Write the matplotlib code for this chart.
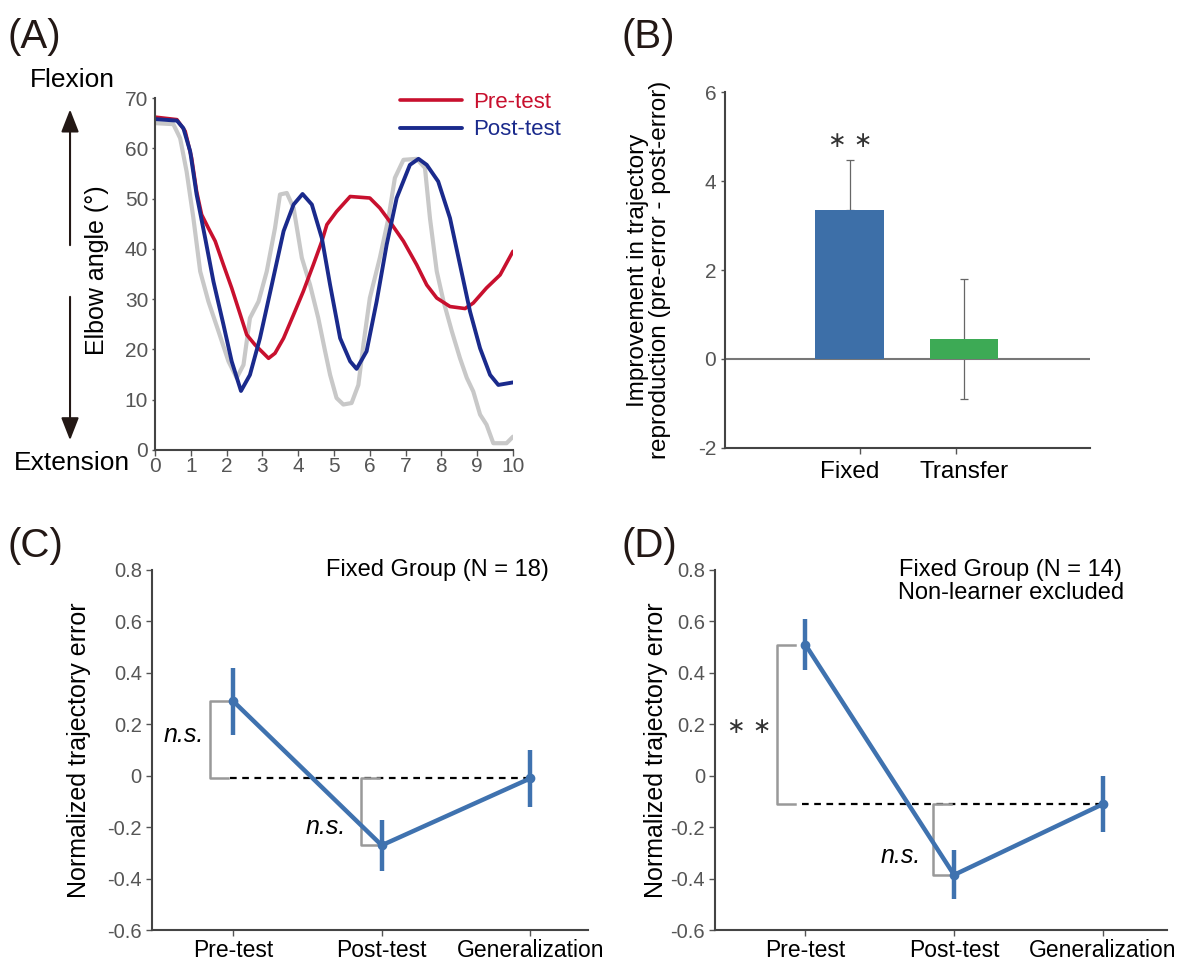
import numpy as np
import matplotlib
matplotlib.use('Agg')
import matplotlib.pyplot as plt
from matplotlib.patches import FancyArrowPatch

plt.rcParams['font.family'] = ['Liberation Sans', 'DejaVu Sans']
plt.rcParams['axes.unicode_minus'] = False

# (A) elbow angle traces
target_t = [0, 0.51, 0.70, 0.88, 1.07, 1.26, 1.49, 1.77, 2.05, 2.28, 2.47, 2.65, 2.89, 3.12,
            3.35, 3.49, 3.68, 3.87, 4.10, 4.33, 4.56, 4.75, 4.89, 5.07, 5.26, 5.49, 5.68,
            5.82, 6.0, 6.28, 6.52, 6.70, 6.94, 7.31, 7.54, 7.68, 7.87, 8.06, 8.29, 8.52,
            8.71, 8.89, 9.08, 9.26, 9.45, 9.82, 10]
target_y = [65.0, 64.8, 62.0, 55.4, 46.1, 35.5, 29.5, 23.6, 17.6, 14.3, 16.9, 26.2, 29.5, 35.5,
            44.1, 50.8, 51.1, 48.1, 38.2, 32.8, 26.2, 19.6, 14.9, 10.3, 9.0, 9.3, 12.9,
            20.9, 30.2, 38.2, 46.1, 54.1, 57.7, 57.9, 56.1, 46.1, 35.5, 29.5, 23.6, 18.2,
            14.3, 11.6, 7.0, 5.0, 1.3, 1.3, 2.6]
pre_t = [0, 0.61, 0.84, 1.02, 1.16, 1.30, 1.49, 1.68, 1.91, 2.14, 2.38, 2.56, 2.79, 3.03,
         3.17, 3.35, 3.59, 3.87, 4.14, 4.42, 4.66, 4.80, 5.07, 5.45, 6.0, 6.28, 6.56, 6.94,
         7.31, 7.59, 7.87, 8.24, 8.66, 8.89, 9.26, 9.64, 10]
pre_y = [66.2, 65.7, 63.4, 58.1, 51.4, 46.8, 44.1, 41.5, 36.8, 32.2, 26.9, 22.9, 20.9, 19.2,
         18.2, 19.2, 22.2, 26.9, 31.5, 36.8, 41.5, 44.8, 47.4, 50.4, 50.1, 48.1, 45.4, 41.5,
         36.8, 32.8, 30.2, 28.5, 28.1, 29.2, 32.2, 34.8, 39.5]
post_t = [0, 0.61, 0.79, 0.98, 1.16, 1.40, 1.63, 1.91, 2.14, 2.40, 2.65, 2.93, 3.26, 3.59,
          3.87, 4.12, 4.38, 4.66, 4.89, 5.17, 5.45, 5.63, 5.91, 6.19, 6.47, 6.75, 7.12,
          7.36, 7.59, 7.91, 8.24, 8.52, 8.80, 9.08, 9.36, 9.59, 10]
post_y = [65.8, 65.5, 64.0, 59.4, 50.8, 42.1, 33.5, 24.9, 17.6, 11.7, 14.9, 22.2, 32.8, 43.5,
          48.8, 50.9, 48.8, 42.1, 32.8, 22.2, 17.6, 16.1, 19.6, 29.5, 40.8, 50.1, 56.7,
          57.9, 56.7, 53.4, 46.1, 36.8, 27.5, 20.2, 14.9, 12.9, 13.4]

# (B) improvement bars
bar_labels = ['Fixed', 'Transfer']
bar_values = [3.35, 0.45]
bar_err_low = [0, 1.35]
bar_err_high = [1.12, 1.35]

# (C) and (D) normalized trajectory error
phases = ['Pre-test', 'Post-test', 'Generalization']
c_mean = [0.29, -0.27, -0.01]
c_err = [0.13, 0.10, 0.11]
d_mean = [0.51, -0.385, -0.11]
d_err = [0.10, 0.095, 0.11]

spine_col = '#444444'
tick_col = '#555555'
line_blue = '#3F72AF'

fig = plt.figure(figsize=(11.93, 9.61), dpi=100)


def style_axes(ax, size=15):
    for s in ['top', 'right']:
        ax.spines[s].set_visible(False)
    for s in ['left', 'bottom']:
        ax.spines[s].set_color(spine_col)
        ax.spines[s].set_linewidth(1.5)
    ax.tick_params(colors=tick_col, labelsize=size, length=4, width=1)


# ---- (A)
axA = fig.add_axes([0.130, 0.532, 0.300, 0.366])
kw = dict(solid_joinstyle='round', solid_capstyle='round')
axA.plot(target_t, target_y, color='#C8C8C8', lw=3, **kw)
axA.plot(pre_t, pre_y, color='#C8102E', lw=2.6, label='Pre-test', **kw)
axA.plot(post_t, post_y, color='#1A2A8C', lw=2.8, label='Post-test', **kw)
axA.set_xlim(0, 10)
axA.set_ylim(0, 70)
axA.set_xticks(range(0, 11))
axA.set_yticks(range(0, 71, 10))
style_axes(axA)
axA.tick_params(axis='y', length=2, pad=3)
axA.tick_params(axis='x', pad=1)
axA.legend(frameon=False, labelcolor='linecolor', fontsize=16, handlelength=2.8,
           loc='upper right', bbox_to_anchor=(1.19, 1.075), handletextpad=0.5, labelspacing=0.3)

fig.text(0.061, 0.917, 'Flexion', fontsize=19, ha='center', va='center')
fig.text(0.060, 0.518, 'Extension', fontsize=19, ha='center', va='center')
fig.text(0.081, 0.719, 'Elbow angle (°)', fontsize=18, rotation=90, ha='center', va='center')
for y0, y1 in [(0.742, 0.889), (0.694, 0.539)]:
    fig.add_artist(FancyArrowPatch((0.0587, y0), (0.0587, y1), transform=fig.transFigure,
                                   arrowstyle='-|>,head_length=1.15,head_width=0.45',
                                   color='#231815', lw=1.5, mutation_scale=12))

# ---- (B)
axB = fig.add_axes([0.608, 0.534, 0.306, 0.370])
xb = [1, 2]
axB.bar(xb, bar_values, width=0.6, color=['#3D6FA8', '#3DAA55'], zorder=2)
axB.errorbar(xb, bar_values, yerr=[bar_err_low, bar_err_high], fmt='none',
             ecolor='#666666', elinewidth=0.9, capsize=3, capthick=0.9, zorder=1)
axB.axhline(0, color='#777777', lw=1.5, zorder=1)
axB.set_xlim(-0.09, 3.11)
axB.set_ylim(-2, 6)
axB.set_yticks([-2, 0, 2, 4, 6])
axB.set_xticks([1.09, 1.93])
axB.set_xticklabels([])
for x, lab in zip(xb, bar_labels):
    axB.text(x, -2.3, lab, ha='center', va='top', fontsize=17.5)
style_axes(axB)
axB.tick_params(axis='y', length=3)
axB.text(1, 4.9, '∗ ∗', ha='center', va='center', fontsize=16, color='#333333',
         family='DejaVu Sans')
axB.set_ylabel('Improvement in trajectory\nreproduction (pre-error - post-error)',
               fontsize=17.5, linespacing=0.95)
axB.yaxis.set_label_coords(-0.15, 0.5)


# ---- (C) & (D)
def line_panel(rect, mean, err, ylab_x, title, brackets, xlim):
    ax = fig.add_axes(rect)
    xs = np.arange(len(phases))
    ref = mean[2]
    ax.plot([xs[0] - 0.02, xs[2]], [ref, ref], color='black', lw=1.6, ls=(0, (3, 2.5)), zorder=1)
    ax.errorbar(xs, mean, yerr=err, color=line_blue, lw=3.2, elinewidth=3.2,
                marker='o', ms=6, capsize=0, zorder=3)
    for (bx, y0, y1, label, lx, ly, italic) in brackets:
        ax.plot([bx + 0.12, bx, bx, bx + 0.12], [y0, y0, y1, y1], color='#999999', lw=1.8, zorder=2)
        if italic:
            ax.text(lx, ly, label, fontsize=18, style='italic', ha='center', va='center')
        else:
            ax.text(lx, ly, label, fontsize=16, ha='center', va='center', color='#333333',
                    family='DejaVu Sans')
    ax.set_xlim(*xlim)
    ax.set_ylim(-0.6, 0.8)
    yt = [-0.6, -0.4, -0.2, 0, 0.2, 0.4, 0.6, 0.8]
    ax.set_yticks(yt)
    ax.set_yticklabels(['0' if v == 0 else f'{v:.1f}' for v in yt])
    ax.set_xticks(xs)
    ax.set_xticklabels(phases)
    style_axes(ax, 14.5)
    ax.tick_params(axis='x', labelsize=16.5, labelcolor='black', pad=2)
    ax.tick_params(axis='y', pad=3)
    ax.set_ylabel('Normalized trajectory error', fontsize=18)
    ax.yaxis.set_label_coords(ylab_x, 0.5)
    ax.text(title[0], title[1], title[2], transform=ax.transAxes, fontsize=17,
            ha='center', va='top', linespacing=1.05)
    return ax


axC = line_panel([0.127, 0.032, 0.366, 0.375], c_mean, c_err, -0.138,
                 (0.655, 1.03, 'Fixed Group (N = 18)'),
                 [(-0.155, c_mean[0], c_mean[2], 'n.s.', -0.33, 0.16, True),
                  (0.86, c_mean[2], c_mean[1], 'n.s.', 0.62, -0.2, True)],
                 (-0.55, 2.39))
axD = line_panel([0.599, 0.032, 0.379, 0.375], d_mean, d_err, -0.104,
                 (0.655, 1.03, 'Fixed Group (N = 14)\nNon-learner excluded'),
                 [(-0.19, d_mean[0], d_mean[2], '∗ ∗', -0.38, 0.19, False),
                  (0.86, d_mean[2], d_mean[1], 'n.s.', 0.64, -0.31, True)],
                 (-0.61, 2.43))

# panel letters
for x, y, s in [(0.006, 0.962, '(A)'), (0.521, 0.962, '(B)'),
                (0.006, 0.432, '(C)'), (0.521, 0.432, '(D)')]:
    fig.text(x, y, s, fontsize=29, ha='left', va='center', color='#231815')

fig.savefig('out.png', dpi=100)
